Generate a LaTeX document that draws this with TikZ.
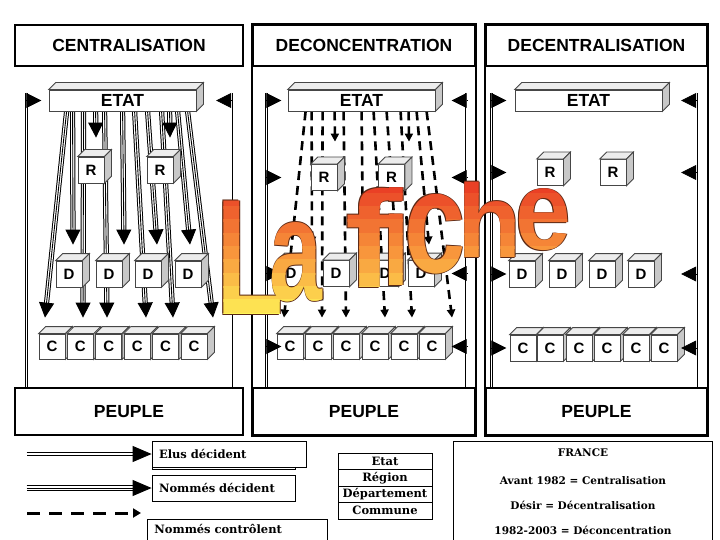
\documentclass[tikz,border=0pt]{standalone}
\usepackage{fontspec}
\usepackage{graphicx}
\setmainfont{DejaVu Serif}
\newfontfamily\arialf{Liberation Sans}
\newfontfamily\legf{DejaVu Serif}
\usetikzlibrary{arrows.meta,calc}
\pgfdeclarelayer{bg}
\pgfsetlayers{bg,main}

\definecolor{edgec}{RGB}{70,70,70}
\definecolor{facetop}{RGB}{236,236,236}
\definecolor{faceside}{RGB}{200,200,200}
\definecolor{fichedark}{RGB}{90,40,20}
\definecolor{wmtop}{RGB}{232,55,35}
\definecolor{wmmid}{RGB}{248,150,60}
\definecolor{wmbot}{RGB}{255,255,90}

\newcommand\fichefont{\arialf\bfseries\fontsize{100}{100}\selectfont}
\newcommand\lafiche[1]{%
 \node[inner sep=0pt,text=#1,font=\fichefont] (wmL) at (-145,5.5) {\scalebox{1.1}[1.65]{L}};
 \node[inner sep=0pt,text=#1,font=\fichefont] (wma) at (-99,9.5) {\scalebox{0.95}[1.45]{a}};
 \node[inner sep=0pt,text=#1,font=\fichefont] (wmf) at (-25,-14.5) {\scalebox{1.5}[1.37]{f}};
 \node[inner sep=0pt,text=#1,font=\fichefont] (wmi) at (1,-15.5) {\scalebox{1.0}[1.35]{i}};
 \node[inner sep=0pt,text=#1,font=\fichefont] (wmc) at (40,-18.5) {\scalebox{1.1}[1.45]{c}};
 \node[inner sep=0pt,text=#1,font=\fichefont] (wmh) at (95,-32.5) {\scalebox{1.05}[1.04]{h}};
 \node[inner sep=0pt,text=#1,font=\fichefont] (wme) at (148,-32.5) {\scalebox{1.0}[1.13]{e}};
}

\newcommand\cubefaces[1]{%
 \filldraw[face, fill=facetop] (#1.north west) -- ++(7,-7) -- ([shift={(7,-7)}]#1.north east) -- (#1.north east) -- cycle;
 \filldraw[face, fill=faceside] (#1.north east) -- ++(7,-7) -- ([shift={(7,-7)}]#1.south east) -- (#1.south east) -- cycle;}
\newcommand\cubenode[5]{\node[cube, minimum height=#5] (#1) at (#2,#3) {#4}; \cubefaces{#1}}

\tikzset{
 frame/.style={draw, line width=2.4pt},
 hdr/.style={draw, line width=2.4pt, inner sep=0pt, fill=white, font=\arialf\bfseries\fontsize{17.5}{20}\selectfont},
 etatbox/.style={draw=edgec, fill=white, line width=0.8pt, minimum width=147pt, minimum height=21pt, inner sep=0pt, font=\arialf\bfseries\fontsize{17.5}{20}\selectfont},
 cube/.style={draw=edgec, fill=white, line width=0.8pt, minimum width=26pt, inner sep=0pt, font=\arialf\bfseries\fontsize{15}{15}\selectfont},
 face/.style={draw=edgec, line width=0.8pt},
 elus/.style={draw, double=white, double distance=1.6pt, line width=0.8pt},
 tipbig/.style={line width=0.8pt, -{Triangle[length=15pt,width=15pt]}},
 tipleg/.style={line width=0.8pt, -{Triangle[length=19pt,width=16pt]}},
 nd/.style={line width=0.9pt, -{Triangle[length=15pt,width=15pt]},
   preaction={draw, -, line width=5.2pt, shorten >=12pt},
   preaction={draw, -, white, line width=3.2pt, shorten >=12pt}},
 ndleg/.style={line width=0.9pt, -{Triangle[length=19pt,width=16pt]},
   preaction={draw, -, line width=5.2pt, shorten >=16pt},
   preaction={draw, -, white, line width=3.2pt, shorten >=16pt}},
 nc/.style={line width=2.6pt, dash pattern=on 9pt off 6pt, -{Triangle[length=8pt,width=8pt]}},
 ncleg/.style={line width=3pt, dash pattern=on 13pt off 9pt, -{Triangle[length=8pt,width=9pt]}},
 legbox/.style={draw, line width=0.8pt, fill=white, inner xsep=7pt, inner ysep=0pt, minimum height=26pt, align=left, font=\legf\bfseries\fontsize{11.5}{13}\selectfont},
 tbl/.style={draw, line width=0.8pt, minimum width=94pt, minimum height=16.5pt, inner sep=0pt, font=\legf\bfseries\fontsize{11.5}{13}\selectfont},
 frtext/.style={inner sep=0pt, font=\legf\bfseries\fontsize{10.5}{12}\selectfont},
}

\begin{document}
\begin{tikzpicture}[x=1pt,y=-1pt]
\useasboundingbox (0,0) rectangle (720,540);

% headers and people
\node[hdr, minimum width=228pt, minimum height=41pt] (h1) at (129,45.5) {CENTRALISATION};
\node[hdr, minimum width=222pt, minimum height=41pt] (h2) at (364,45.5) {DECONCENTRATION};
\node[hdr, minimum width=221pt, minimum height=41pt] (h3) at (596.5,45.5) {DECENTRALISATION};
\node[hdr, minimum width=228pt, minimum height=47pt] (p1) at (129,411.5) {PEUPLE};
\node[hdr, minimum width=222pt, minimum height=47pt] (p2) at (364,411.5) {PEUPLE};
\node[hdr, minimum width=221pt, minimum height=47pt] (p3) at (596.5,411.5) {PEUPLE};
\draw[frame] (h2.north west) rectangle (p2.south east);
\draw[frame] (h3.north west) rectangle (p3.south east);

% ETAT bars
\node[etatbox] (e1) at (122.5,100.5) {ETAT}; \cubefaces{e1}
\node[etatbox] (e2) at (361.5,100.5) {ETAT}; \cubefaces{e2}
\node[etatbox] (e3) at (588.5,100.5) {ETAT}; \cubefaces{e3}

% column 1 cubes
\cubenode{r11}{91}{170}{R}{26pt}
\cubenode{r12}{160}{170}{R}{26pt}
\cubenode{d11}{69}{274}{D}{26pt}
\cubenode{d12}{109}{274}{D}{26pt}
\cubenode{d13}{148}{274}{D}{26pt}
\cubenode{d14}{188}{274}{D}{26pt}
\cubenode{c11}{52}{346.5}{C}{25pt}
\cubenode{c12}{80.4}{346.5}{C}{25pt}
\cubenode{c13}{108.8}{346.5}{C}{25pt}
\cubenode{c14}{137.2}{346.5}{C}{25pt}
\cubenode{c15}{165.6}{346.5}{C}{25pt}
\cubenode{c16}{194}{346.5}{C}{25pt}

% column 2 cubes
\cubenode{r21}{324}{177.5}{R}{26pt}
\cubenode{r22}{391.5}{177.5}{R}{26pt}
\cubenode{d21}{291}{273.5}{D}{26pt}
\cubenode{d22}{336}{273.5}{D}{26pt}
\cubenode{d23}{385}{273.5}{D}{26pt}
\cubenode{d24}{421}{273.5}{D}{26pt}
\cubenode{c21}{290}{346.5}{C}{25pt}
\cubenode{c22}{318}{346.5}{C}{25pt}
\cubenode{c23}{346}{346.5}{C}{25pt}
\cubenode{c24}{375}{346.5}{C}{25pt}
\cubenode{c25}{404}{346.5}{C}{25pt}
\cubenode{c26}{432}{346.5}{C}{25pt}

% column 3 cubes
\cubenode{r31}{550}{172.5}{R}{26pt}
\cubenode{r32}{613}{172.5}{R}{26pt}
\cubenode{d31}{522}{274}{D}{26pt}
\cubenode{d32}{562}{274}{D}{26pt}
\cubenode{d33}{602}{274}{D}{26pt}
\cubenode{d34}{641}{274}{D}{26pt}
\cubenode{c31}{523}{348}{C}{26pt}
\cubenode{c32}{550}{348}{C}{26pt}
\cubenode{c33}{579}{348}{C}{26pt}
\cubenode{c34}{607}{348}{C}{26pt}
\cubenode{c35}{636}{348}{C}{26pt}
\cubenode{c36}{664}{348}{C}{26pt}

% side line coordinates
\coordinate (a1b) at ($(p1.north west)+(12.5,0)$);
\coordinate (b1b) at ($(p1.north east)+(-13,0)$);
\coordinate (a2b) at ($(p2.north west)+(14.5,0)$);
\coordinate (b2b) at ($(p2.north east)+(-9.5,0)$);
\coordinate (a3b) at ($(p3.north west)+(6.5,0)$);
\coordinate (b3b) at ($(p3.north east)+(-12,0)$);

\begin{pgfonlayer}{bg}
 % elected lines
 \draw[elus] (a1b) -- ($(a1b |- e1.west)+(0,-7)$);
 \draw[elus] (b1b) -- ($(b1b |- e1.east)+(0,-7)$);
 \draw[elus] (a2b) -- ($(a2b |- e2.west)+(0,-7)$);
 \draw[elus] (b2b) -- ($(b2b |- e2.east)+(0,-7)$);
 \draw[elus] (a3b) -- ($(a3b |- e3.west)+(0,-7)$);
 \draw[elus] (b3b) -- ($(b3b |- e3.east)+(0,-7)$);
 % centralisation: appointed decide
 \draw[nd] ([xshift=18pt]e1.south west) -- ($(c11.north)+(-7,-16)$);
 \draw[nd] ([xshift=24pt]e1.south west) -- ($(d11.north)+(4,-16)$);
 \draw[nd] ([xshift=35pt]e1.south west) -- ($(c12.north)+(2.6,-16)$);
 \draw[nd] ([xshift=47pt]e1.south west) -- ($(r11.north)+(5,-19)$);
 \draw[nd] ([xshift=56pt]e1.south west) -- ($(c13.north)+(-1.8,-16)$);
 \draw[nd] ([xshift=74pt]e1.south west) -- ($(d12.north)+(15,-16)$);
 \draw[nd] ([xshift=86pt]e1.south west) -- ($(c14.north)+(8.8,-16)$);
 \draw[nd] ([xshift=99pt]e1.south west) -- ($(d13.north)+(9,-16)$);
 \draw[nd] ([xshift=113pt]e1.south west) -- ($(c15.north)+(7.4,-16)$);
 \draw[nd] ([xshift=121pt]e1.south west) -- ($(r12.north)+(10,-19)$);
 \draw[nd] ([xshift=129pt]e1.south west) -- ($(d14.north)+(2,-16)$);
 \draw[nd] ([xshift=139pt]e1.south west) -- ($(c16.north)+(19,-16)$);
 % deconcentration: appointed control
 \draw[nc] ([xshift=18pt]e2.south west) -- ($(c21.north)+(-6,-16)$);
 \draw[nc] ([xshift=24pt]e2.south west) -- ($(d21.north)+(21,-15.5)$);
 \draw[nc] ([xshift=35pt]e2.south west) -- ($(c22.north)+(4,-16)$);
 \draw[nc] ([xshift=47pt]e2.south west) -- ($(r21.north)+(11,-22.5)$);
 \draw[nc] ([xshift=56pt]e2.south west) -- ($(c23.north)+(0,-16)$);
 \draw[nc] ([xshift=74pt]e2.south west) -- ($(d22.north)+(27,-15.5)$);
 \draw[nc] ([xshift=86pt]e2.south west) -- ($(c24.north)+(10,-16)$);
 \draw[nc] ([xshift=99pt]e2.south west) -- ($(d23.north)+(11,-15.5)$);
 \draw[nc] ([xshift=113pt]e2.south west) -- ($(c25.north)+(8,-16)$);
 \draw[nc] ([xshift=121pt]e2.south west) -- ($(r22.north)+(17.5,-22.5)$);
 \draw[nc] ([xshift=129pt]e2.south west) -- ($(d24.north)+(8,-15.5)$);
 \draw[nc] ([xshift=139pt]e2.south west) -- ($(c26.north)+(20,-16)$);
\end{pgfonlayer}

% side arrow heads
\draw[tipbig] (a1b |- e1.west) -- ++(15,0);
\draw[tipbig] (b1b |- e1.east) -- ++(-15,0);
\foreach \n in {e2,r21,d21,c21} \draw[tipbig] (a2b |- \n.west) -- ++(15,0);
\foreach \n in {e2,r22,d24,c26} \draw[tipbig] (b2b |- \n.east) -- ++(-15,0);
\foreach \n in {e3,r31,d31,c31} \draw[tipbig] (a3b |- \n.west) -- ++(15,0);
\foreach \n in {e3,r32,d34,c36} \draw[tipbig] (b3b |- \n.east) -- ++(-15,0);

% legend
\draw[line width=0.8pt, fill=white] (152,441) rectangle (295,469.5);
\node[legbox, text width=140pt] (lg1) at (229,454) {Elus décident};
\node[legbox, text width=129pt] (lg2) at (223.5,488) {Nommés décident};
\node[legbox, anchor=north west, text width=166pt, minimum height=0pt, inner ysep=4pt, text height=10pt, text depth=14pt] (lg3) at (147,519) {Nommés contrôlent};
\draw[elus] ($(lg1.west)+(-125,0)$) -- ($(lg1.west)+(-17,0)$);
\draw[tipleg] ($(lg1.west)+(-19,0)$) -- (lg1.west);
\draw[ndleg] ($(lg2.west)+(-125,0)$) -- (lg2.west);
\coordinate (l3a) at (27,513);
\coordinate (l3b) at (141,513);
\draw[ncleg] (l3a) -- (l3b);

% levels table
\node[tbl] (t1) at (385,461.25) {Etat};
\node[tbl] (t2) at (385,477.75) {Région};
\node[tbl] (t3) at (385,494.25) {Département};
\node[tbl] (t4) at (385,510.75) {Commune};

% France box
\node[draw, line width=0.8pt, minimum width=259pt, minimum height=107pt, anchor=north west, inner sep=0pt] (frbox) at (453,441) {};
\node[frtext] (fr1) at (583,453) {FRANCE};
\node[frtext] (fr2) at (583,481) {Avant 1982 = Centralisation};
\node[frtext] (fr3) at (583,505) {Désir = Décentralisation};
\node[frtext] (fr4) at (583,530) {1982-2003 = Déconcentration};

% watermark: dark outline, then gradient in horizontal bands
\begin{scope}[shift={(395,252.5)}]
 \foreach \dx/\dy in {0.9/0,-0.45/0.8,-0.45/-0.8}{
  \begin{scope}[shift={(\dx,\dy)}]\lafiche{fichedark}\end{scope}}
\end{scope}
\foreach \k in {0,...,10}{
 \pgfmathsetmacro\ya{180+\k*13.3}
 \pgfmathsetmacro\yb{\ya+14.8}
 \pgfmathsetmacro\pc{ifthenelse(\k<5.5,(\k+0.5)*100/5.5,(\k-5)*100/5.5)}
 \ifnum\k<6 \colorlet{bandc}{wmmid!\pc!wmtop}\else\colorlet{bandc}{wmbot!\pc!wmmid}\fi
 \begin{scope}
  \clip (190,\ya) rectangle (600,\yb);
  \begin{scope}[shift={(395,252.5)}]\lafiche{bandc}\end{scope}
 \end{scope}
}
\end{tikzpicture}
\end{document}
